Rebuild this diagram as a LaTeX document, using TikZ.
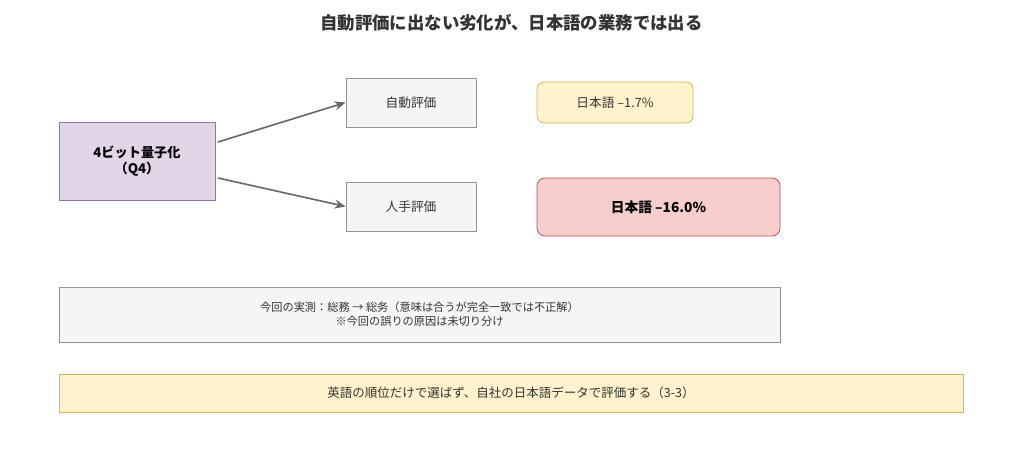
\documentclass[tikz,border=0pt]{standalone}
\usepackage{fontspec}
\setmainfont{Noto Sans CJK JP}
\usetikzlibrary{arrows.meta}
\definecolor{grayfill}{HTML}{F5F5F5}
\definecolor{graydraw}{HTML}{666666}
\definecolor{purfill}{HTML}{E1D5E7}
\definecolor{purdraw}{HTML}{9673A6}
\definecolor{yelfill}{HTML}{FFF2CC}
\definecolor{yeldraw}{HTML}{D6B656}
\definecolor{redfill}{HTML}{F8CECC}
\definecolor{reddraw}{HTML}{B85450}
\definecolor{txt}{HTML}{333333}
\tikzset{
  box/.style={draw, line width=0.8pt, inner sep=0pt, align=center, text=txt, font=\fontsize{12.7}{15}\selectfont},
  graybox/.style={box, fill=grayfill, draw=graydraw!70},
  purbox/.style={box, fill=purfill, draw=purdraw, font=\bfseries\fontsize{13.2}{16}\selectfont, text=black},
  yelbox/.style={box, fill=yelfill, draw=yeldraw},
  redbox/.style={box, fill=redfill, draw=reddraw, font=\bfseries\fontsize{13.7}{16}\selectfont, text=black},
  arr/.style={draw=graydraw, line width=1.6pt, -{Stealth[length=11pt,width=9pt]}},
}
\begin{document}
\begin{tikzpicture}[x=1pt,y=-1pt]
\useasboundingbox (0,0) rectangle (1024,450);
\node[font=\bfseries\fontsize{17.4}{20}\selectfont, text=txt] (title) at (511.5,23) {自動評価に出ない劣化が、日本語の業務では出る};
\node[purbox, minimum width=156pt, minimum height=78pt] (q4) at (137,161) {4ビット量子化\\（Q4）};
\node[graybox, minimum width=130pt, minimum height=49pt] (auto) at (411,102.5) {自動評価};
\node[graybox, minimum width=130pt, minimum height=49pt] (human) at (411,206.5) {人手評価};
\node[yelbox, rounded corners=7pt, minimum width=156pt, minimum height=41pt] (r1) at (615,102.5) {日本語 –1.7\%};
\node[redbox, rounded corners=8pt, minimum width=243pt, minimum height=58pt] (r2) at (658.5,207) {日本語 –16.0\%};
\node[graybox, minimum width=721pt, minimum height=55pt, font=\fontsize{11.2}{14}\selectfont] (note) at (419.5,314.5) {今回の実測：総務 → 総务（意味は合うが完全一致では不正解）\\※今回の誤りの原因は未切り分け};
\node[yelbox, minimum width=904pt, minimum height=38pt, font=\fontsize{12.5}{15}\selectfont] (concl) at (511,393) {英語の順位だけで選ばず、自社の日本語データで評価する（3-3）};
\coordinate (a1s) at (218,142);
\coordinate (a2s) at (218,178);
\draw[arr] (a1s) -- (auto.west);
\draw[arr] (a2s) -- (human.west);
\end{tikzpicture}
\end{document}
